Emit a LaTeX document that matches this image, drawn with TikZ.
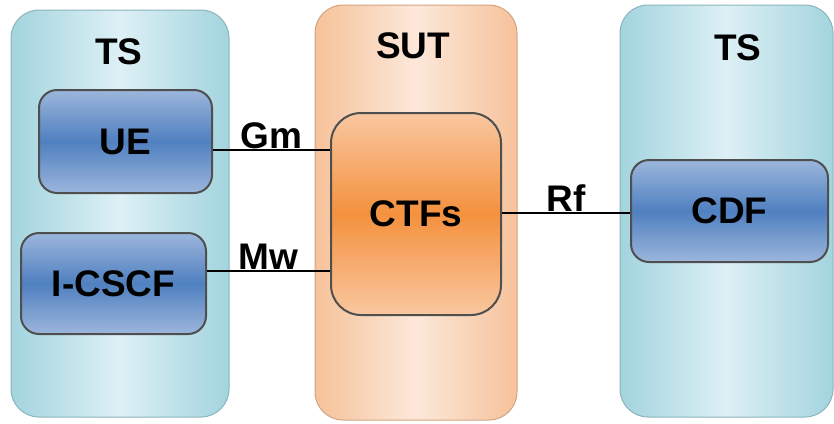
\documentclass[tikz,border=0pt]{standalone}
\usepackage{fontspec}
\setmainfont{Liberation Sans}
\definecolor{tsedge}{HTML}{A3D4DE}
\definecolor{tslight}{HTML}{DDF0F5}
\definecolor{sutedge}{HTML}{F6C29A}
\definecolor{sutlight}{HTML}{FCE8DA}
\definecolor{boxlight}{HTML}{9CB6DC}
\definecolor{boxdark}{HTML}{4F80C0}
\definecolor{ctflight}{HTML}{F9C7A0}
\definecolor{ctfdark}{HTML}{F4913E}
\definecolor{boxline}{HTML}{4F4F4F}
\tikzset{
    container/.style={rounded corners=28pt, inner sep=0pt, draw=#1edge!85!black, line width=1pt,
        left color=#1edge, right color=#1edge, middle color=#1light},
    func/.style={rounded corners=18pt, inner sep=0pt, draw=boxline, line width=2pt,
        top color=boxlight, bottom color=boxlight, middle color=boxdark},
    title/.style={font=\fontsize{37}{42}\selectfont\bfseries},
    iface/.style={line width=2pt}
}
\begin{document}
\begin{tikzpicture}[x=1pt,y=-1pt]
        \useasboundingbox (0,0) rectangle (834,423);
        %% Containers
        \node[container=ts, minimum width=218pt, minimum height=407pt]  (tsleft)  at (120,213.5) {};
        \node[container=sut, minimum width=202pt, minimum height=415pt] (sut)     at (416,212.5) {};
        \node[container=ts, minimum width=213pt, minimum height=412pt]  (tsright) at (726.5,211) {};
        %% Titles
        \node[title] (tsleftlabel)  at (119,52) {TS};
        \node[title] (sutlabel)     at (413,46) {SUT};
        \node[title] (tsrightlabel) at (738,48) {TS};
        %% Functions
        \node[func, title, minimum width=173pt, minimum height=103pt] (ue)    at (125.5,141.5) {UE};
        \node[func, title, minimum width=185pt, minimum height=101pt] (icscf) at (113.5,283.5) {I-CSCF};
        \node[func, title, minimum width=197pt, minimum height=102pt] (cdf)   at (729.5,211)   {CDF};
        \node[func, title, rounded corners=30pt, minimum width=170pt, minimum height=202pt,
              top color=ctflight, bottom color=ctflight, middle color=ctfdark] (ctfs) at (416,214) {CTFs};
        %% Interfaces
        \draw[iface] (ue.east |- 0,150) -- node[title, above=-3pt] (gm) {Gm} (ctfs.west |- 0,150);
        \draw[iface] (icscf.east |- 0,271) -- node[title, above=-3pt] (mw) {Mw} (ctfs.west |- 0,271);
        \draw[iface] (ctfs.east |- 0,213) -- node[title, above=-3pt] (rf) {Rf} (cdf.west |- 0,213);
    \end{tikzpicture}
\end{document}
